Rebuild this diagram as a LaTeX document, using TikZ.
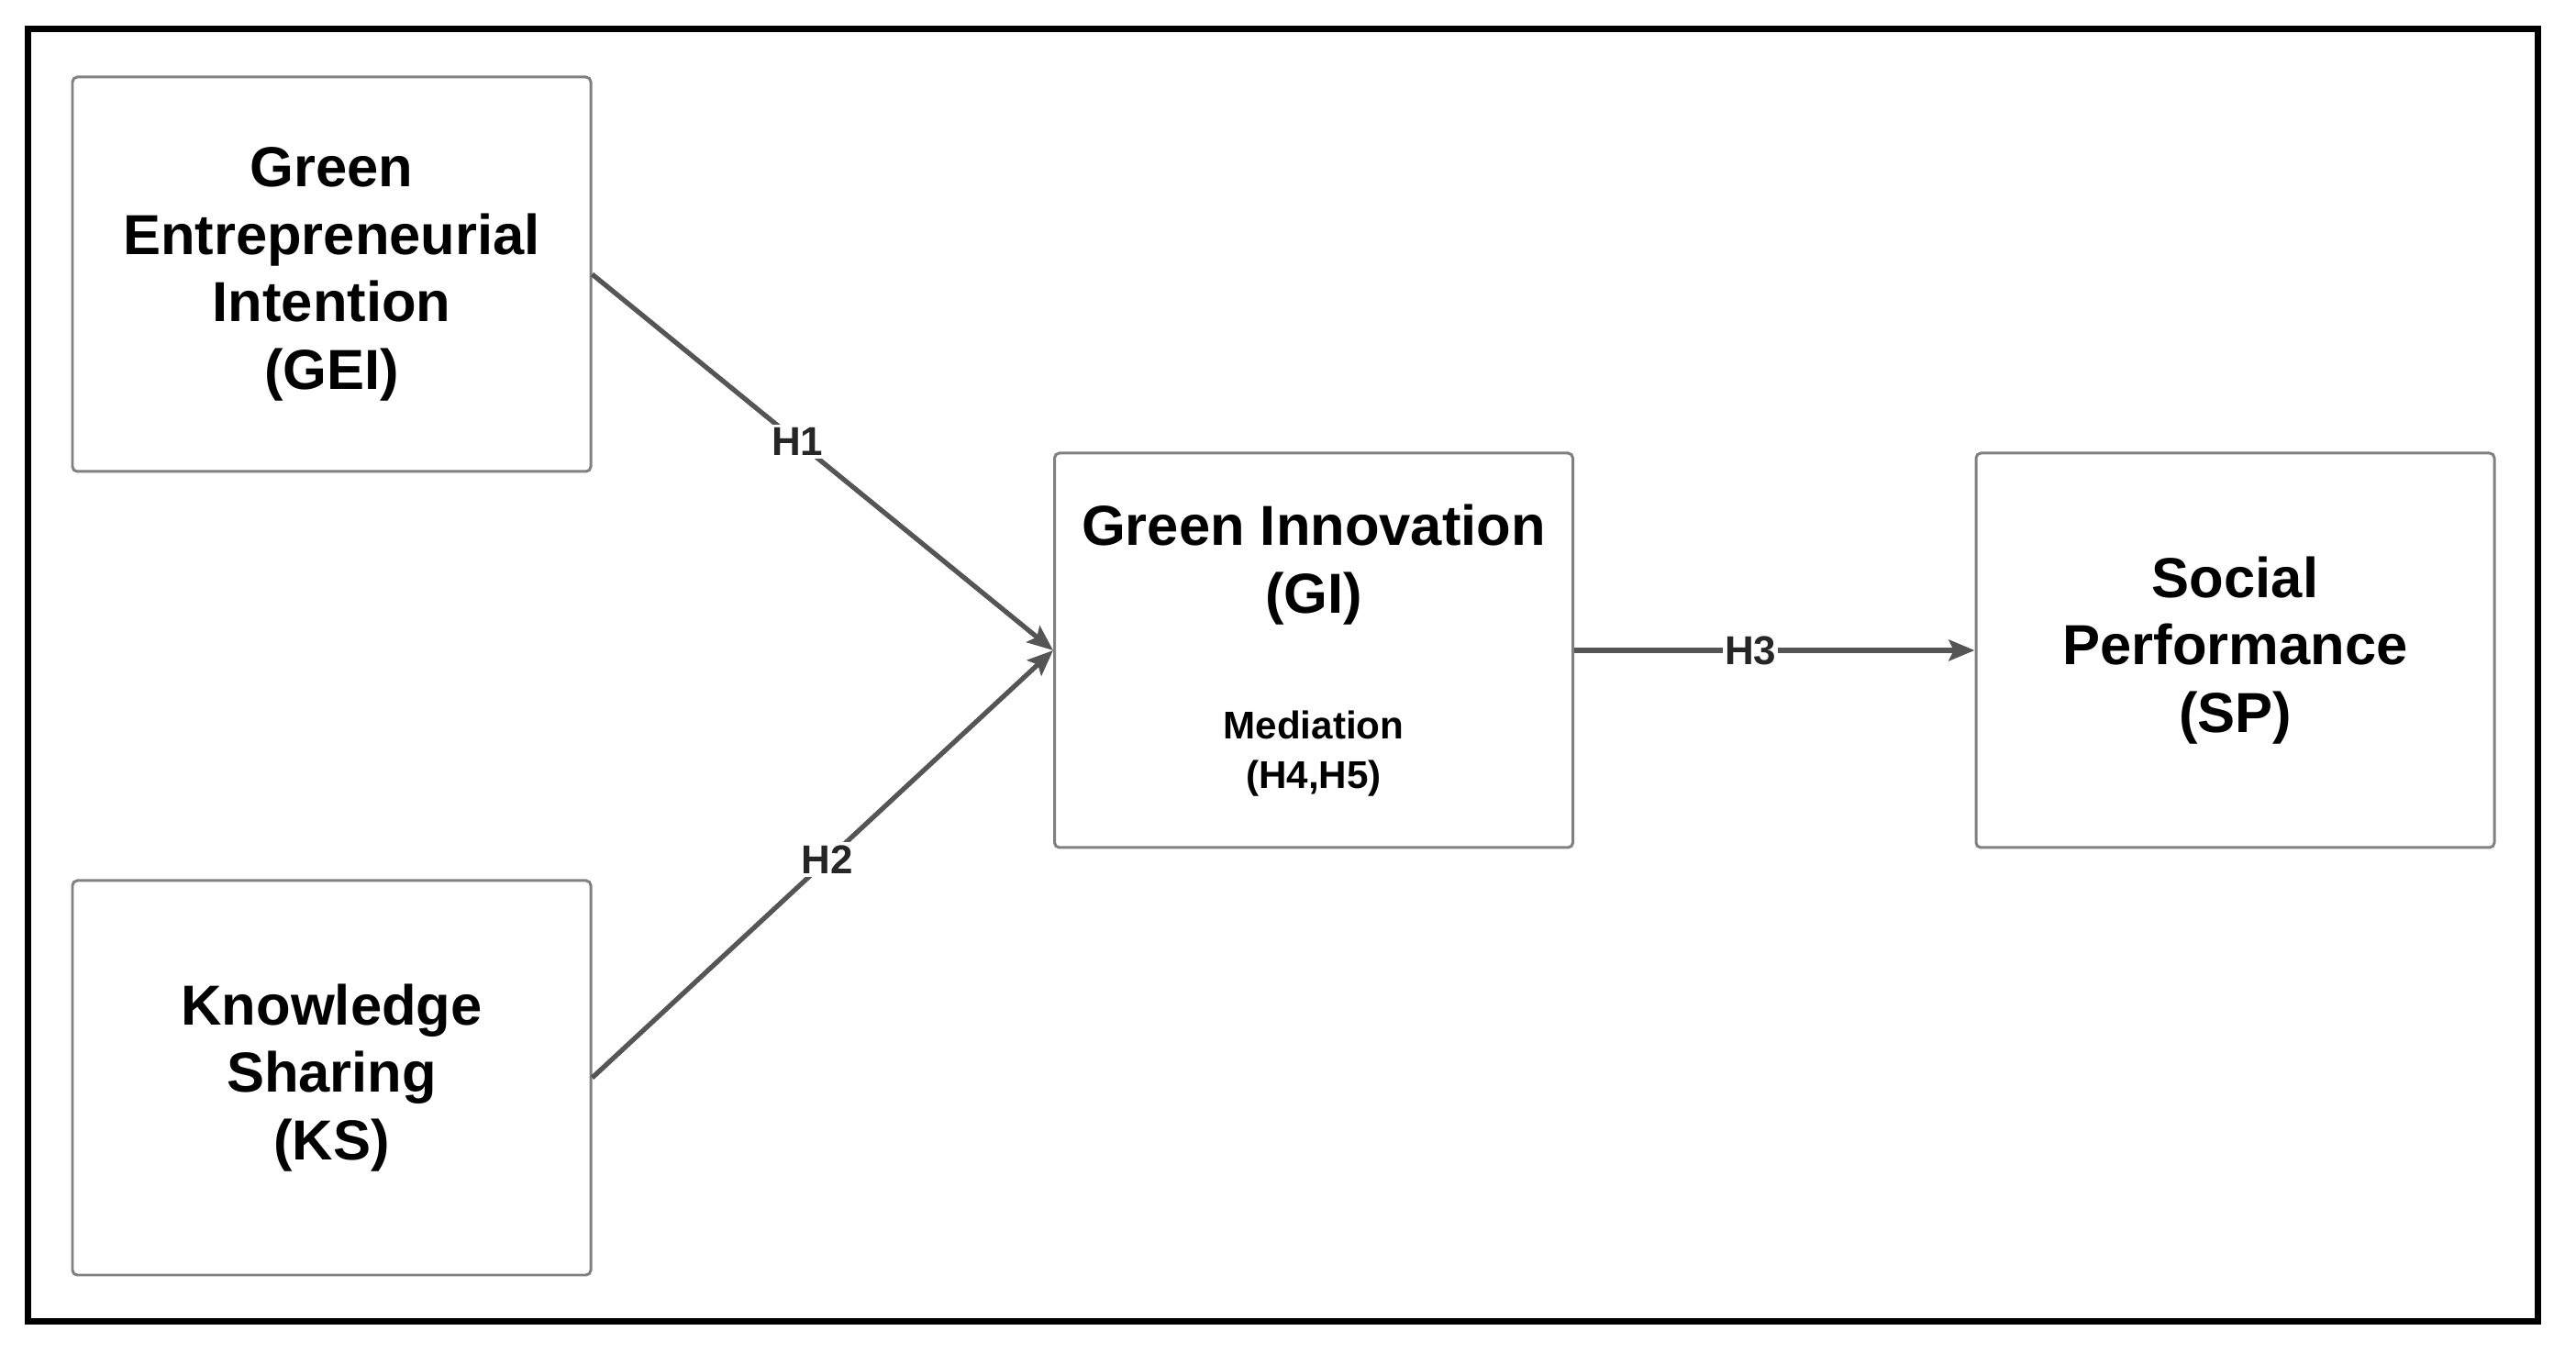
\documentclass[tikz,border=0pt]{standalone}
\usepackage{fontspec}
\setmainfont{Liberation Sans}
\usepackage{tikz}
\usetikzlibrary{arrows.meta}
\definecolor{boxgray}{HTML}{808080}
\definecolor{linkgray}{HTML}{555555}

\begin{document}
\begin{tikzpicture}[
		box/.style={draw=boxgray,line width=0.85pt,rounded corners=1.5pt,minimum width=5.65cm,minimum height=4.3cm,align=center,font=\bfseries\fontsize{17.5}{21}\selectfont},
		link/.style={draw=linkgray,line width=1.5pt,arrows={-Stealth[length=8pt,width=6.5pt,inset=1.5pt]}},
		hyp/.style={fill=white,inner sep=1pt,text=black!85,font=\bfseries\fontsize{12.5}{15}\selectfont}
	]
			\useasboundingbox (0,0) rectangle (28.08,14.75);
			\draw[line width=2pt] (0.305,0.345) rectangle (27.665,14.435);
			\node[box] (gei) at (3.615,11.76) {Green\\Entrepreneurial\\Intention\\(GEI)};
			\node[box] (ks) at (3.615,3.00) {Knowledge\\Sharing\\(KS)};
			\node[box] (gi) at (14.32,7.66) {Green Innovation\\(GI)\\[17.9pt]{\fontsize{12}{15}\selectfont Mediation}\\[-5.7pt]{\fontsize{12}{15}\selectfont (H4,H5)}};
			\node[box] (sp) at (24.365,7.66) {Social\\Performance\\(SP)};
			\draw[link] (gei.east) -- (gi.west) node[hyp,pos=0.445] {H1};
			\draw[link] (ks.east) -- (gi.west) node[hyp,pos=0.51] {H2};
			\draw[link,line width=1.8pt] (gi.east) -- (sp.west) node[hyp,pos=0.44,inner sep=0.5pt] {H3};
		\end{tikzpicture}
\end{document}
